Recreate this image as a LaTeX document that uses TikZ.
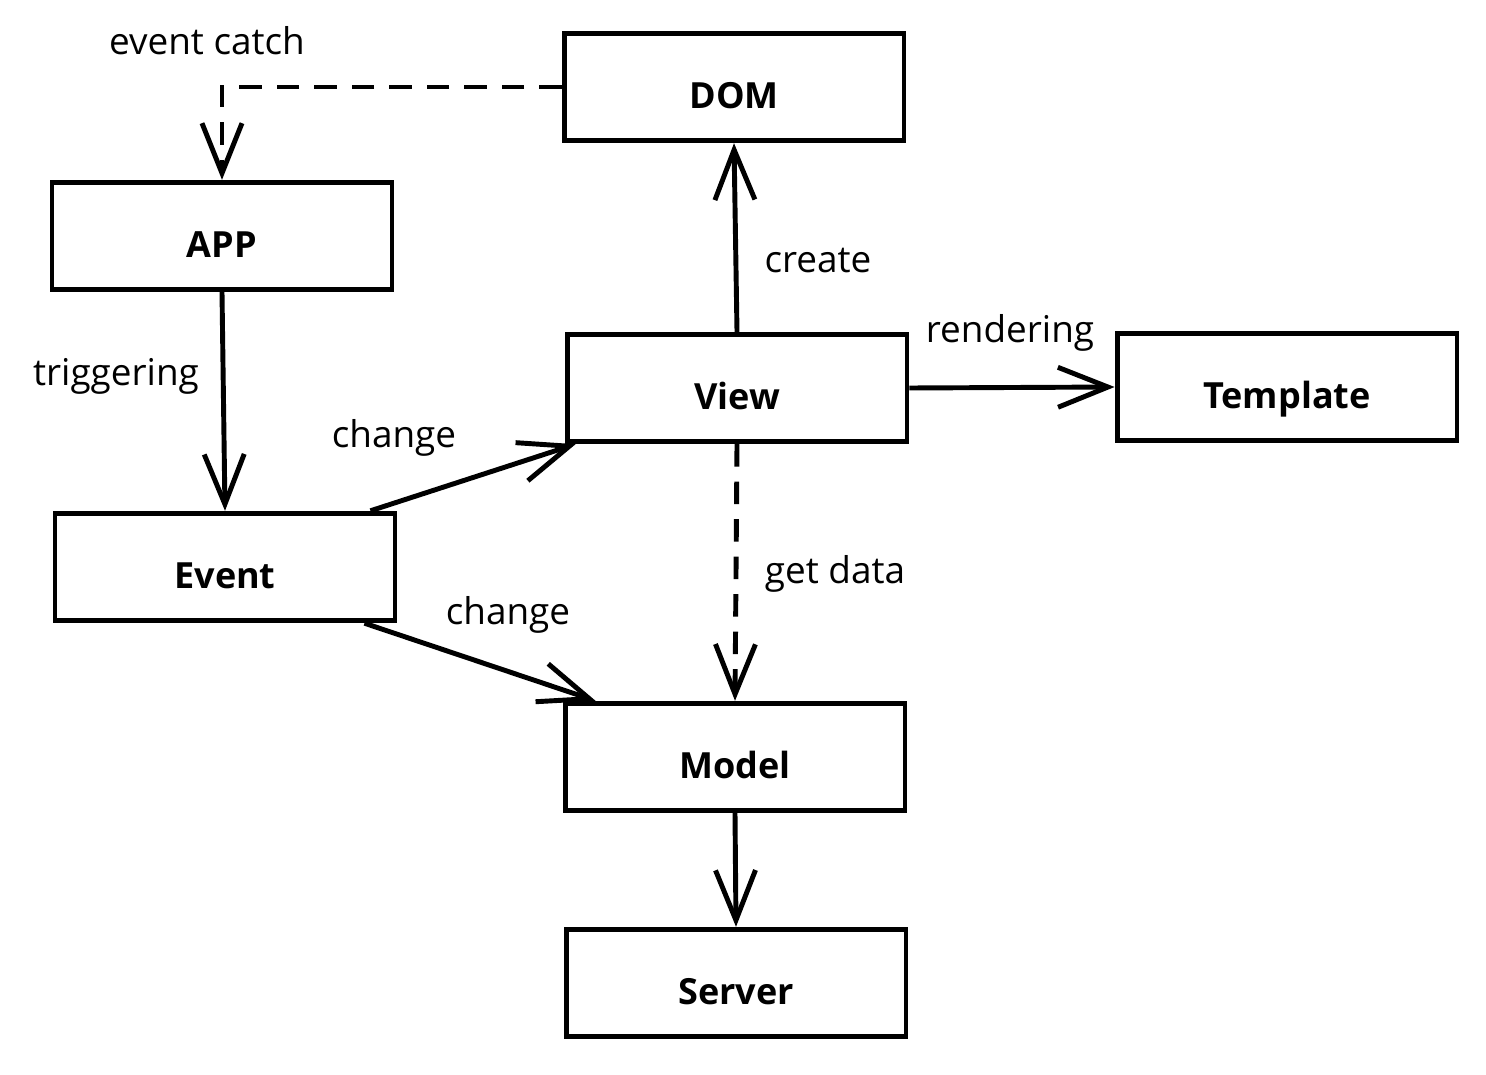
\documentclass[tikz,border=0pt]{standalone}
\usepackage{fontspec}
\setmainfont{Open Sans}
\usetikzlibrary{arrows.meta}
\begin{document}
\begin{tikzpicture}[
	                      x = 0.02cm,
	                      y = -0.02cm,
	         box/.style = {draw, line width=2.8pt, minimum width=6.8cm, minimum height=2.15cm,
	                       text height=0.85cm, text depth=0pt,
	                       font=\fontsize{20.5}{24}\selectfont\bfseries},
	        flow/.style = {line width=2.8pt, -{Straight Barb[length=1cm,width=0.8cm]}},
	      dashflow/.style = {flow, dash pattern=on 0.45cm off 0.3cm},
	       note/.style = {font=\fontsize{21}{25}\selectfont},
	                     ]
	    \useasboundingbox (0,0) rectangle (1486,1074);
		% boxes
		\node[box] (dom) at (734,87) {DOM};
		\node[box] (app) at (222,236) {APP};
		\node[box] (view) at (737,388) {View};
		\node[box] (template) at (1287,387) {Template};
		\node[box] (event) at (225,567) {Event};
		\node[box] (model) at (735,757) {Model};
		\node[box] (server) at (736,983) {Server};
		% connectors
		\draw[dashflow] (dom.west) -| (app.north);
		\draw[flow] (app.south) -- (event.north);
		\draw[flow] ([xshift=-0.54cm]event.north east) -- ([xshift=0.22cm]view.south west);
		\draw[flow] ([xshift=-0.66cm]event.south east) -- ([xshift=0.66cm]model.north west);
		\draw[flow] (view.north) -- (dom.south);
		\draw[flow] (view.east) -- (template.west);
		\draw[dashflow] (view.south) -- (model.north);
		\draw[flow] (model.south) -- (server.north);
		% labels
		\node[note] (catch) at (207,41) {event catch};
		\node[note] (trig) at (116,376) {triggering};
		\node[note] (chview) at (394,438) {change};
		\node[note] (chmodel) at (508,615) {change};
		\node[note] (create) at (818,261) {create};
		\node[note] (render) at (1010,333) {rendering};
		\node[note] (getdata) at (835,574) {get data};
	\end{tikzpicture}
\end{document}
